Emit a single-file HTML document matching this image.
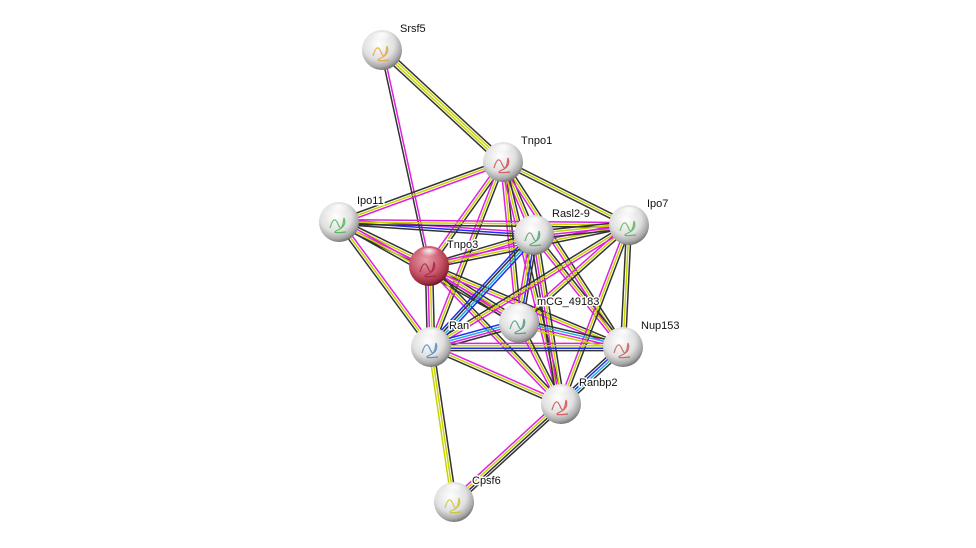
<!DOCTYPE html>
<html><head><meta charset="utf-8"><style>
html,body{margin:0;padding:0;background:#fff;}
svg{display:block;}
text{font-family:"Liberation Sans",sans-serif;font-size:11px;fill:#111;stroke:#fff;stroke-width:3px;paint-order:stroke;stroke-linejoin:round;}
</style></head><body>
<svg id="s" width="976" height="548" viewBox="0 0 976 548">
<defs>
<radialGradient id="g" cx="0.42" cy="0.35" r="0.65">
<stop offset="0" stop-color="#ffffff"/><stop offset="0.6" stop-color="#e0e0e0"/><stop offset="0.88" stop-color="#a8a8a8"/><stop offset="1" stop-color="#7a7a7a"/></radialGradient>
<radialGradient id="r" cx="0.42" cy="0.35" r="0.65">
<stop offset="0" stop-color="#e8a0aa"/><stop offset="0.6" stop-color="#c8566a"/><stop offset="0.9" stop-color="#9a2a3c"/><stop offset="1" stop-color="#6a1828"/></radialGradient>
<radialGradient id="h" cx="0.5" cy="0.2" r="0.4">
<stop offset="0" stop-color="#fff" stop-opacity="0.9"/><stop offset="1" stop-color="#fff" stop-opacity="0"/></radialGradient>
</defs>
<g id="edges"></g><g id="nodes"></g>
</svg>
<script>
var N={Srsf5:[382,50],Tnpo1:[503,162],Ipo11:[339,222],"Rasl2-9":[534,235],Ipo7:[629,225],Tnpo3:[429,266],mCG_49183:[519,323],Ran:[431,347],Nup153:[623,347],Ranbp2:[561,404],Cpsf6:[454,502]};
var K="#333",Y="#c8d400",M="#e020e0",B="#2030f0",C="#20b0e0";
var E=[
["Srsf5","Tnpo1",[K,Y,Y,K]],["Srsf5","Tnpo3",[M,K]],
["Tnpo1","Ipo11",[M,Y,K]],["Tnpo1","Tnpo3",[K,Y,M]],["Tnpo1","Rasl2-9",[K,Y,M]],["Tnpo1","Ipo7",[K,Y,K]],
["Tnpo1","Ran",[K,Y,M]],["Tnpo1","mCG_49183",[K,Y,M]],["Tnpo1","Nup153",[K,Y,M]],["Tnpo1","Ranbp2",[K,Y,M]],
["Ipo11","Rasl2-9",[M,B,K]],["Ipo11","Ipo7",[M,Y,K]],["Ipo11","Tnpo3",[K,Y,M,K]],["Ipo11","Ran",[M,Y,K]],["Ipo11","mCG_49183",[M,Y,K]],
["Tnpo3","Rasl2-9",[K,Y,M]],["Tnpo3","Ipo7",[M,Y,K]],["Tnpo3","Ran",[K,Y,M,K]],["Tnpo3","mCG_49183",[K,Y,M,K]],["Tnpo3","Nup153",[K,Y,M]],["Tnpo3","Ranbp2",[K,Y,M]],
["Rasl2-9","Ipo7",[K,Y,M,K]],["Rasl2-9","Ran",[B,C,K,B]],["Rasl2-9","mCG_49183",[K,B,Y,M]],["Rasl2-9","Nup153",[K,Y,M]],["Rasl2-9","Ranbp2",[K,Y,M,K]],
["Ipo7","Ran",[M,Y,K]],["Ipo7","mCG_49183",[K,Y,M]],["Ipo7","Nup153",[K,Y,K]],["Ipo7","Ranbp2",[K,Y,M]],
["Ran","mCG_49183",[B,C,M,K]],["Ran","Nup153",[M,Y,B,K]],["Ran","Ranbp2",[M,Y,K]],["Ran","Cpsf6",[K,Y,Y]],
["mCG_49183","Nup153",[K,C,M,Y]],["mCG_49183","Ranbp2",[K,Y,M]],["Nup153","Ranbp2",[K,C,B,K]],["Ranbp2","Cpsf6",[K,K,Y,M]]];
var ns="http://www.w3.org/2000/svg",ge=document.getElementById("edges"),gn=document.getElementById("nodes");
E.forEach(function(e){var a=N[e[0]],b=N[e[1]],dx=b[0]-a[0],dy=b[1]-a[1],l=Math.hypot(dx,dy),px=-dy/l,py=dx/l,n=e[2].length;
e[2].forEach(function(c,i){var o=(i-(n-1)/2)*2.4,L=document.createElementNS(ns,"line");
L.setAttribute("x1",a[0]+px*o);L.setAttribute("y1",a[1]+py*o);L.setAttribute("x2",b[0]+px*o);L.setAttribute("y2",b[1]+py*o);
L.setAttribute("stroke",c);L.setAttribute("stroke-width","1.5");ge.appendChild(L);});});
var cols={Srsf5:"#e0a030",Tnpo1:"#d04040",Ipo11:"#40b040",Tnpo3:"#a02040","Rasl2-9":"#40a060",Ipo7:"#50b050",mCG_49183:"#409070",Ran:"#4080c0",Nup153:"#c05050",Ranbp2:"#d04040",Cpsf6:"#c8c020"};
var labels=[];
for(var k in N){var p=N[k],c=document.createElementNS(ns,"circle");
c.setAttribute("cx",p[0]);c.setAttribute("cy",p[1]);c.setAttribute("r",20);c.setAttribute("fill",k=="Tnpo3"?"url(#r)":"url(#g)");gn.appendChild(c);
var d=document.createElementNS(ns,"path");d.setAttribute("d","M"+(p[0]-9)+","+(p[1]+6)+" q4,-14 8,-4 t6,-6 q3,8 -6,12 t8,2");
d.setAttribute("fill","none");d.setAttribute("stroke",cols[k]);d.setAttribute("stroke-width","1.2");d.setAttribute("opacity","0.8");gn.appendChild(d);
var h=document.createElementNS(ns,"ellipse");h.setAttribute("cx",p[0]);h.setAttribute("cy",p[1]-11);h.setAttribute("rx",12);h.setAttribute("ry",7);h.setAttribute("fill","url(#h)");gn.appendChild(h);
labels.push([k,p]);}
labels.forEach(function(q){var t=document.createElementNS(ns,"text");t.setAttribute("x",q[1][0]+18);t.setAttribute("y",q[1][1]-18);t.textContent=q[0];gn.appendChild(t);});
</script>
</body></html>
